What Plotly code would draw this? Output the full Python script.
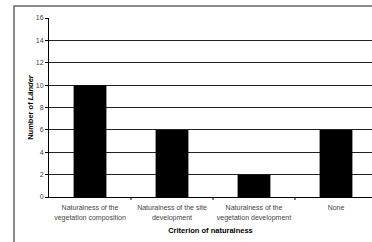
import plotly.graph_objects as go

categories = ["Naturalness of the<br>vegetation composition",
              "Naturalness of the site<br>development",
              "Naturalness of the<br>vegetation development",
              "None"]
values = [10, 6, 2, 6]
y_ticks = [0, 2, 4, 6, 8, 10, 12, 14, 16]

W, H = 372, 242
L, T, B = 49, 18, 45
plot_w = W - L
plot_h = H - T - B
cat_w = 82

fig = go.Figure()
fig.add_trace(go.Bar(
    x=list(range(len(categories))), y=values,
    marker=dict(color="black", line=dict(width=0)),
    width=0.4,
))

x_end = -0.5 + plot_w / cat_w

fig.update_layout(
    width=W, height=H,
    margin=dict(l=L, r=0, t=T, b=B, autoexpand=False),
    plot_bgcolor="white", paper_bgcolor="white",
    showlegend=False,
    font=dict(family="Liberation Sans, Arial", size=7, color="#333"),
    xaxis=dict(
        range=[-0.5, x_end],
        tickmode="array",
        tickvals=list(range(len(categories))),
        ticktext=categories,
        ticks="",
        ticklabelstandoff=4,
        showgrid=False,
        zeroline=False,
        automargin=False,
        showline=True, linecolor="black", linewidth=1,
        tickfont=dict(size=7, color="#444"),
        title=dict(text="<b>Criterion of naturalness</b>",
                   font=dict(size=7.5, color="black"), standoff=7),
        fixedrange=True,
    ),
    yaxis=dict(
        range=[0, 16],
        tickmode="array", tickvals=y_ticks,
        ticks="outside", ticklen=3, tickcolor="black",
        showgrid=True, gridcolor="#222", gridwidth=1,
        zeroline=False,
        automargin=False,
        showline=True, linecolor="black", linewidth=1,
        tickfont=dict(size=7, color="#444"),
        title=dict(text="<b>Number of <i>Länder</i></b>",
                   font=dict(size=7.5, color="black"), standoff=1),
        fixedrange=True,
    ),
)

# category boundary ticks on x axis
for b in [0.5, 1.5, 2.5]:
    fig.add_shape(type="line", xref="x", yref="paper",
                  x0=b, x1=b, y0=0, y1=-3 / plot_h,
                  line=dict(color="black", width=1))

# outer frame (cropped on right and bottom)
fig.add_shape(type="rect", xref="paper", yref="paper",
              x0=(14 - L) / plot_w, x1=1.2,
              y0=-2, y1=(H - B - 6) / plot_h,
              line=dict(color="#666", width=1.5), layer="below")

fig.write_html("out.html",
               config={"displayModeBar": False},
               post_script="document.body.style.margin='0';document.body.style.overflow='hidden';")
